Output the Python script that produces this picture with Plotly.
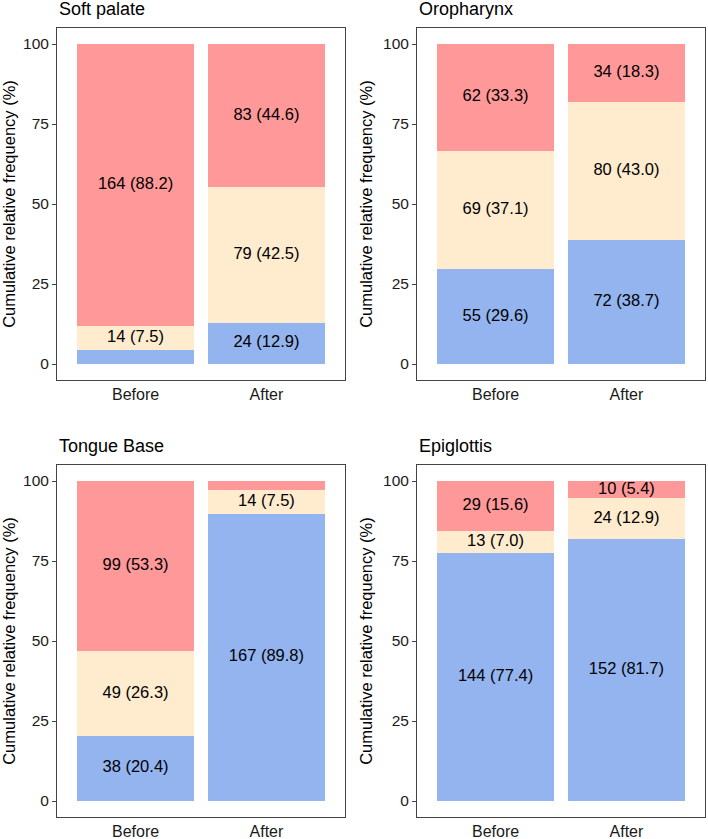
import plotly.graph_objects as go

panels = ["Soft palate", "Oropharynx", "Tongue Base", "Epiglottis"]
groups = ["Before", "After"]
categories = ["blue", "beige", "red"]
# counts per panel: [Before, After] (stack order bottom -> top)
blue_counts = {"Soft palate": [8, 24], "Oropharynx": [55, 72], "Tongue Base": [38, 167], "Epiglottis": [144, 152]}
beige_counts = {"Soft palate": [14, 79], "Oropharynx": [69, 80], "Tongue Base": [49, 14], "Epiglottis": [13, 24]}
red_counts = {"Soft palate": [164, 83], "Oropharynx": [62, 34], "Tongue Base": [99, 5], "Epiglottis": [29, 10]}
# percentages as printed in the chart
blue_pct = {"Soft palate": [4.3, 12.9], "Oropharynx": [29.6, 38.7], "Tongue Base": [20.4, 89.8], "Epiglottis": [77.4, 81.7]}
beige_pct = {"Soft palate": [7.5, 42.5], "Oropharynx": [37.1, 43.0], "Tongue Base": [26.3, 7.5], "Epiglottis": [7.0, 12.9]}
red_pct = {"Soft palate": [88.2, 44.6], "Oropharynx": [33.3, 18.3], "Tongue Base": [53.3, 2.7], "Epiglottis": [15.6, 5.4]}
yticks = [0, 25, 50, 75, 100]
colors = {"blue": "#93B4EF", "beige": "#FFEBCD", "red": "#FF9999"}

W, H = 708, 839
xdom = [(57 / W, 345 / W), (417 / W, 705 / W)]
ydom_top = (1 - 380 / H, 1 - 28 / H)
ydom_bot = (1 - 817 / H, 1 - 465 / H)
doms = [(xdom[0], ydom_top), (xdom[1], ydom_top), (xdom[0], ydom_bot), (xdom[1], ydom_bot)]

counts = {"blue": blue_counts, "beige": beige_counts, "red": red_counts}
pcts = {"blue": blue_pct, "beige": beige_pct, "red": red_pct}
FONT = "Liberation Sans, Arial"

fig = go.Figure()
for i, p in enumerate(panels):
    ax = "" if i == 0 else str(i + 1)
    totals = [sum(counts[c][p][g] for c in categories) for g in range(2)]
    base = [0.0, 0.0]
    tx, ty, tt = [], [], []
    for c in categories:
        vals = [counts[c][p][g] / totals[g] * 100 for g in range(2)]
        fig.add_trace(go.Bar(x=groups, y=vals, width=0.9, marker=dict(color=colors[c], line=dict(width=0)),
                             xaxis="x" + ax, yaxis="y" + ax, showlegend=False, hoverinfo="skip"))
        for g in range(2):
            if pcts[c][p][g] >= 5:
                tx.append(groups[g])
                ty.append(base[g] + vals[g] / 2)
                tt.append(f"{counts[c][p][g]} ({pcts[c][p][g]:.1f})")
            base[g] += vals[g]
    fig.add_trace(go.Scatter(x=tx, y=ty, text=tt, mode="text", textposition="middle center",
                             textfont=dict(size=16.5, color="black", family=FONT),
                             xaxis="x" + ax, yaxis="y" + ax, showlegend=False, hoverinfo="skip"))
    xd, yd = doms[i]
    fig.layout["xaxis" + ax] = dict(domain=list(xd), anchor="y" + ax, range=[-0.6, 1.6],
                                    categoryorder="array", categoryarray=groups,
                                    showline=True, mirror=True, linecolor="#444444", linewidth=1,
                                    ticks="", showgrid=False, zeroline=False,
                                    tickfont=dict(size=16, color="#1a1a1a"))
    fig.layout["yaxis" + ax] = dict(domain=list(yd), anchor="x" + ax, range=[-5, 105],
                                    tickvals=yticks, ticks="outside", ticklen=4, tickcolor="#444444",
                                    showline=True, mirror=True, linecolor="#444444", linewidth=1,
                                    showgrid=False, zeroline=False,
                                    tickfont=dict(size=15.5, color="#1a1a1a"),
                                    title=dict(text="Cumulative relative frequency (%)",
                                               font=dict(size=16.5, color="black"), standoff=6))
    fig.add_annotation(text=p, xref="paper", yref="paper", x=xd[0], y=yd[1] + 7 / H,
                       xanchor="left", yanchor="bottom", showarrow=False,
                       font=dict(size=18, color="black"))

fig.update_layout(width=W, height=H, margin=dict(l=0, r=0, t=0, b=0), barmode="stack",
                  plot_bgcolor="white", paper_bgcolor="white",
                  font=dict(family=FONT, color="black"))
fig.write_html("out.html", config={"displayModeBar": False},
               post_script="document.body.style.margin='0';document.body.style.overflow='hidden';")
